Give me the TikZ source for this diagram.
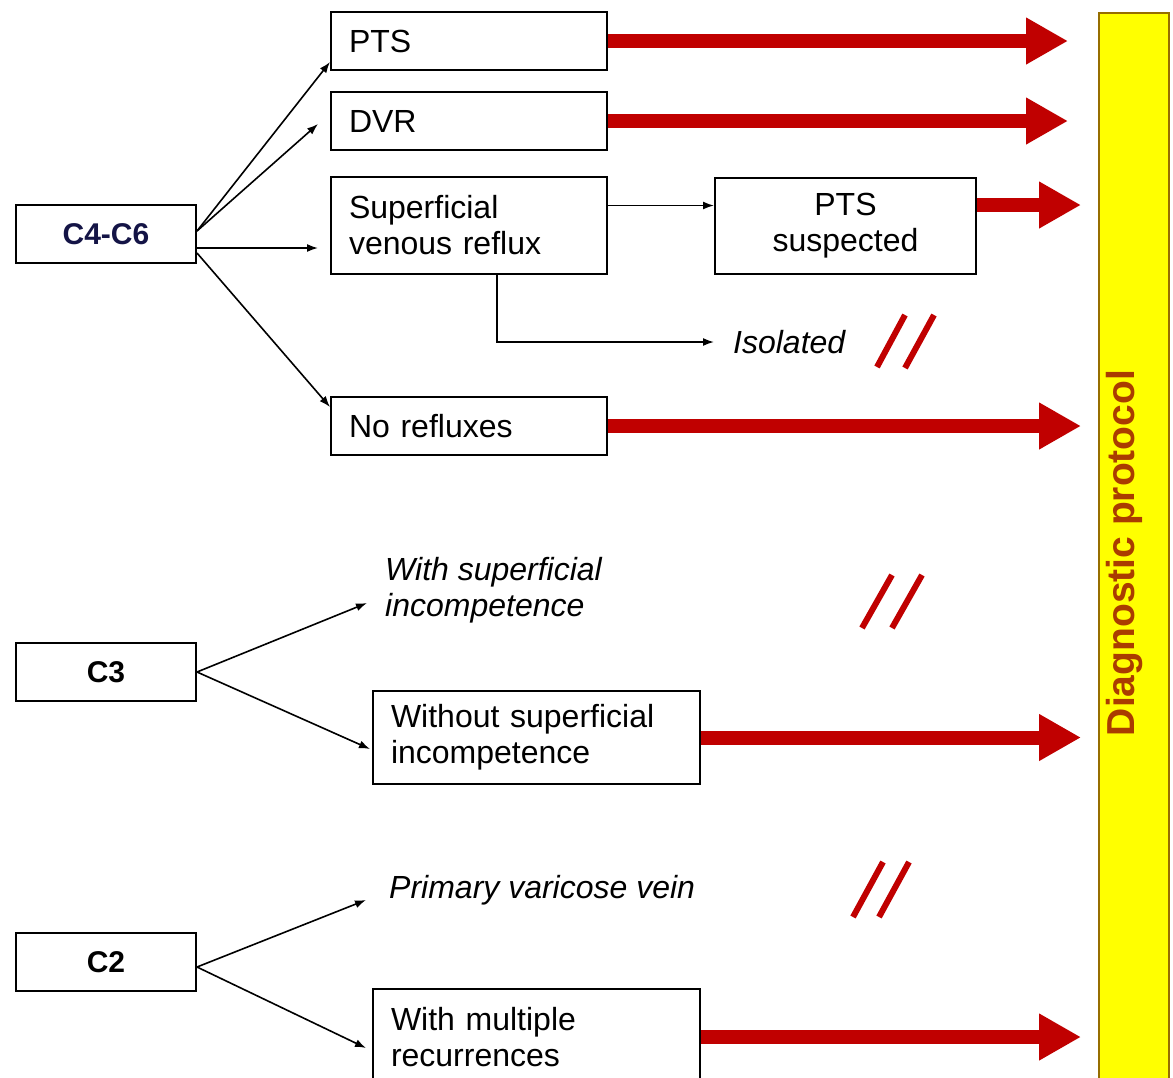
\documentclass[tikz,border=0pt]{standalone}
\usepackage{fontspec}
\setmainfont{Liberation Sans}
\usetikzlibrary{arrows.meta}

\definecolor{arrowred}{RGB}{192,0,0}
\definecolor{barfill}{RGB}{255,255,0}
\definecolor{barline}{RGB}{150,110,0}
\definecolor{protext}{RGB}{170,60,0}
\definecolor{navy}{RGB}{20,20,70}

\begin{document}
\begin{tikzpicture}[x=1pt,y=-1pt]
\tikzstyle{every node}=[font=\fontsize{32}{36}\selectfont]
\tikzstyle{cbox}=[draw,line width=2pt,anchor=north west,minimum width=180pt,minimum height=58pt,font=\fontsize{30}{36}\selectfont\bfseries]
\tikzstyle{box}=[draw,line width=2pt,anchor=north west,inner xsep=18pt,inner ysep=0pt,align=left,minimum height=58pt]
\tikzstyle{note}=[anchor=west,inner xsep=4pt,align=left,font=\fontsize{32}{36}\selectfont\itshape]
\tikzstyle{thin}=[line width=1.6pt,-{Latex[length=11pt,width=8pt]}]
\tikzstyle{fat}=[line width=14pt,arrowred,-{Triangle[length=42pt,width=44pt]}]
\tikzstyle{slash}=[line width=6pt,arrowred]
\path[use as bounding box,fill=white] (0,0) rectangle (1173,1077);

% protocol bar
\node[draw=barline,fill=barfill,line width=2pt,anchor=north west,inner sep=0pt,minimum width=70pt,minimum height=1090pt] (bar) at (1098,12) {};
\node[rotate=90,text=protext,font=\fontsize{39}{44}\selectfont\bfseries] (diag) at (1124,553) {Diagnostic protocol};

% classes
\node[cbox,text=navy] (c46) at (15,204) {C4-C6};
\node[cbox] (c3) at (15,642) {C3};
\node[cbox] (c2) at (15,932) {C2};

% findings
\node[box,text width=240pt] (pts) at (330,11) {PTS};
\node[box,text width=240pt] (dvr) at (330,91) {DVR};
\node[box,text width=240pt,minimum height=97pt] (sup) at (330,176) {Superficial\\venous reflux};
\node[box,text width=225pt,align=center,minimum height=96pt] (ptss) at (714,177) {PTS\\suspected};
\node[box,text width=240pt] (nor) at (330,396) {No refluxes};
\node[box,text width=291pt,minimum height=93pt] (without) at (372,690) {Without superficial\\incompetence};
\node[box,text width=291pt,minimum height=96pt] (multi) at (372,988) {With multiple\\recurrences};

\node[note,inner xsep=19pt] (iso) at (714,342) {Isolated};
\node[note] (withsup) at (381,590) {With superficial\\incompetence};
\node[note] (prim) at (385,890) {Primary varicose vein};

% thin connectors
\draw[thin] ([yshift=3pt]c46.east) -- ([yshift=9pt]pts.south west);
\draw[thin] ([yshift=3pt]c46.east) -- ([xshift=-12pt,yshift=-3pt]dvr.west);
\draw[thin] ([yshift=-14pt]c46.east) -- ([xshift=-12pt,yshift=-22.5pt]sup.west);
\draw[thin] ([yshift=-19pt]c46.east) -- ([yshift=-11pt]nor.north west);
\draw[thin] ([yshift=20pt]sup.east) -- ([yshift=20pt]sup.east -| ptss.west);
\draw[thin] ([xshift=28pt]sup.south) |- (iso.west);
\draw[thin] (c3.east) -- ([xshift=-14pt,yshift=-13pt]withsup.west);
\draw[thin] (c3.east) -- ([xshift=-2pt,yshift=-11.5pt]without.west);
\draw[thin] ([yshift=-5pt]c2.east) -- ([xshift=-19pt,yshift=-10pt]prim.west);
\draw[thin] ([yshift=-5pt]c2.east) -- ([xshift=-6pt,yshift=-11pt]multi.west);

% to the protocol
\coordinate (endA) at (1068,0);
\coordinate (endB) at (1081,0);
\draw[fat] (pts.east) -- (pts.east -| endA);
\draw[fat] (dvr.east) -- (dvr.east -| endA);
\draw[fat] ([yshift=21pt]ptss.east) -- ([yshift=21pt]ptss.east -| endB);
\draw[fat] (nor.east) -- (nor.east -| endB);
\draw[fat] (without.east) -- (without.east -| endB);
\draw[fat] (multi.east) -- (multi.east -| endB);

% not sent
\draw[slash] (877,367) -- (905,315) (905,368) -- (934,315);
\draw[slash] (862,628) -- (892,575) (892,628) -- (922,575);
\draw[slash] (853,917) -- (883,862) (879,917) -- (909,862);
\end{tikzpicture}
\end{document}
